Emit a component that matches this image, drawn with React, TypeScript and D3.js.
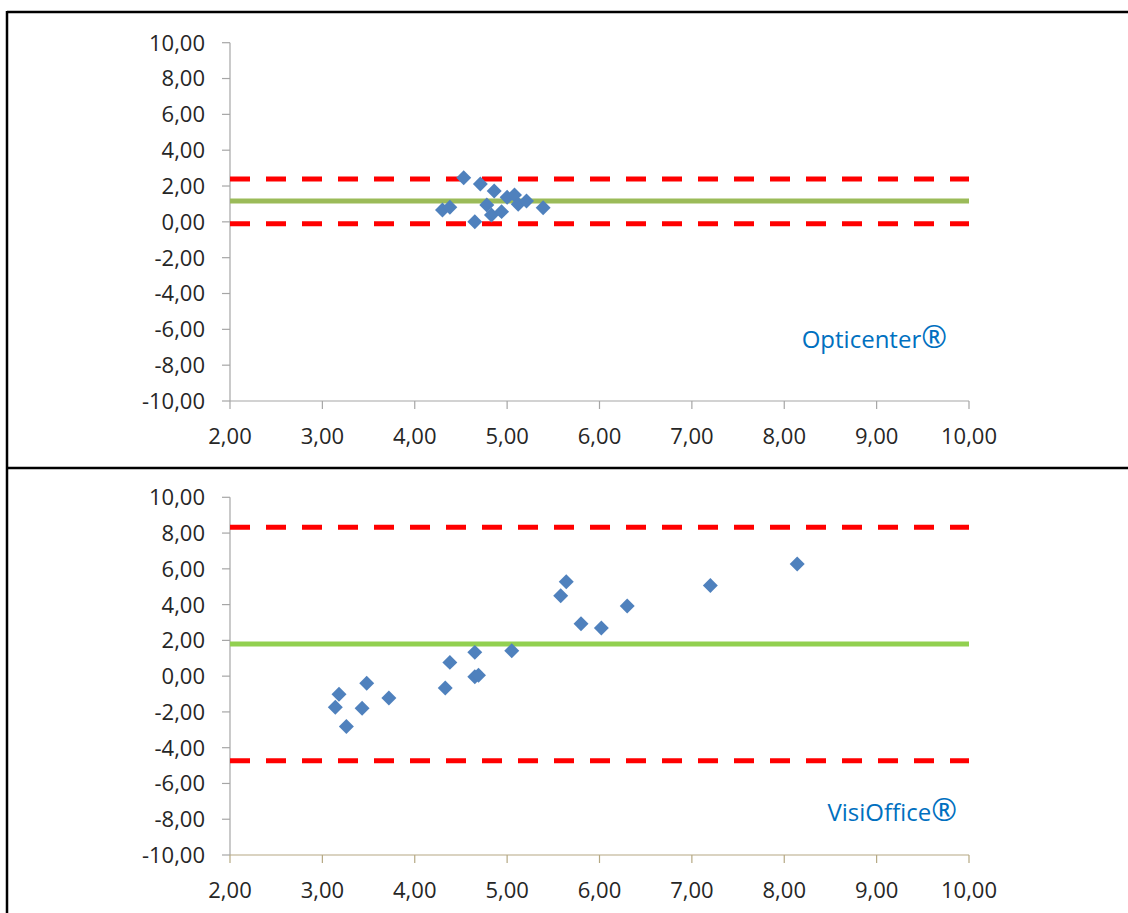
import React from "react";
import * as d3 from "d3";

const xTicks = [2, 3, 4, 5, 6, 7, 8, 9, 10];
const yTicks = [-10, -8, -6, -4, -2, 0, 2, 4, 6, 8, 10];

const opticenterX = [4.30, 4.38, 4.53, 4.65, 4.71, 4.78, 4.83, 4.86, 4.94, 5.0, 5.08, 5.12, 5.21, 5.39];
const opticenterY = [0.66, 0.81, 2.46, 0.01, 2.11, 0.94, 0.38, 1.72, 0.57, 1.37, 1.50, 0.98, 1.16, 0.79];
const opticenterMean = 1.16;
const opticenterUpper = 2.39;
const opticenterLower = -0.1;

const visiX = [3.14, 3.18, 3.26, 3.43, 3.48, 3.72, 4.33, 4.38, 4.65, 4.65, 4.69, 5.05, 5.58, 5.64, 5.80, 6.02, 6.30, 7.20, 8.14];
const visiY = [-1.74, -1.01, -2.82, -1.80, -0.40, -1.22, -0.66, 0.77, 1.33, -0.03, 0.05, 1.42, 4.50, 5.28, 2.93, 2.69, 3.92, 5.07, 6.27];
const visiMean = 1.8;
const visiUpper = 8.33;
const visiLower = -4.73;

const fmt = (v: number) => v.toFixed(2).replace(".", ",");

const FONT = "'Open Sans', sans-serif";

type PanelProps = {
  top: number;
  bottom: number;
  xs: number[];
  ys: number[];
  mean: number;
  upper: number;
  lower: number;
  label: string;
  labelX: number;
  labelY: number;
  green: string;
  xAxisColor: string;
};

function Panel(p: PanelProps) {
  const x = d3.scaleLinear().domain([2, 10]).range([230, 969]);
  const y = d3.scaleLinear().domain([-10, 10]).range([p.bottom, p.top]);
  const diamond = d3.symbol(d3.symbolSquare, 112)();
  const x0 = x(2);
  const x1 = x(10);
  return (
    <g>
      {/* y axis */}
      <line x1={x0} x2={x0} y1={y(10)} y2={y(-10)} stroke="#A6A6A6" strokeWidth={1.2} />
      {yTicks.map((t) => (
        <g key={"y" + t}>
          <line x1={x0 - 8} x2={x0} y1={y(t)} y2={y(t)} stroke="#A6A6A6" strokeWidth={1.2} />
          <text x={205} y={y(t)} dy="0.36em" textAnchor="end" fontFamily={FONT} fontSize={22} fill="#262626">
            {fmt(t)}
          </text>
        </g>
      ))}
      {/* x axis */}
      <line x1={x0} x2={x1} y1={y(-10)} y2={y(-10)} stroke={p.xAxisColor} strokeWidth={1.2} />
      {xTicks.map((t) => (
        <g key={"x" + t}>
          <line x1={x(t)} x2={x(t)} y1={y(-10)} y2={y(-10) + 8} stroke={p.xAxisColor} strokeWidth={1.2} />
          <text x={x(t)} y={y(-10) + 35} dy="0.36em" textAnchor="middle" fontFamily={FONT} fontSize={22} fill="#262626">
            {fmt(t)}
          </text>
        </g>
      ))}
      {/* limits */}
      <line x1={x0} x2={x1} y1={y(p.upper)} y2={y(p.upper)} stroke="#FF0000" strokeWidth={5} strokeDasharray="20,16" />
      <line x1={x0} x2={x1} y1={y(p.lower)} y2={y(p.lower)} stroke="#FF0000" strokeWidth={5} strokeDasharray="20,16" />
      <line x1={x0} x2={x1} y1={y(p.mean)} y2={y(p.mean)} stroke={p.green} strokeWidth={5} />
      {/* points */}
      {p.xs.map((v, i) => (
        <path
          key={"p" + i}
          d={diamond || ""}
          transform={`translate(${x(v)},${y(p.ys[i])}) rotate(45)`}
          fill="#4F81BD"
        />
      ))}
      <text x={p.labelX} y={p.labelY} textAnchor="end" fontFamily={FONT} fontSize={24} fill="#0070C0">
        {p.label}
        <tspan fontSize={31}>®</tspan>
      </text>
    </g>
  );
}

export default function App() {
  return (
    <svg
      width={1128}
      height={913}
      style={{ position: "absolute", left: 0, top: 0, background: "#fff" }}
    >
      <rect x={0} y={0} width={1128} height={913} fill="#fff" />
      <Panel
        top={42.7}
        bottom={401}
        xs={opticenterX}
        ys={opticenterY}
        mean={opticenterMean}
        upper={opticenterUpper}
        lower={opticenterLower}
        label="Opticenter"
        labelX={947}
        labelY={348}
        green="#9BBB59"
        xAxisColor="#A6A6A6"
      />
      <Panel
        top={497.3}
        bottom={855}
        xs={visiX}
        ys={visiY}
        mean={visiMean}
        upper={visiUpper}
        lower={visiLower}
        label="VisiOffice"
        labelX={957}
        labelY={821}
        green="#92D050"
        xAxisColor="#B5A883"
      />
      {/* table borders */}
      <line x1={7} x2={1128} y1={12} y2={12} stroke="#000" strokeWidth={2.5} />
      <line x1={7} x2={1128} y1={468} y2={468} stroke="#000" strokeWidth={2.5} />
      <line x1={7} x2={7} y1={11} y2={913} stroke="#000" strokeWidth={2.5} />
    </svg>
  );
}
